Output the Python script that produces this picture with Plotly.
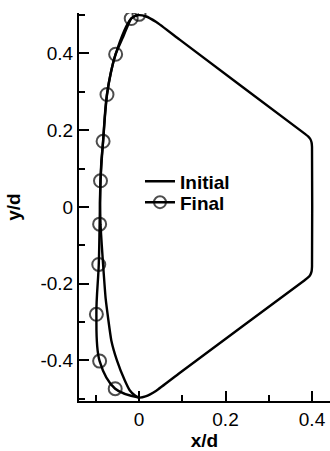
import plotly.graph_objects as go

# Initial profile: closed outline, traced from the top apex down the
# rounded leading edge, then back up along the flat-backed right side.
init_x = [0.000, -0.010, -0.018, -0.038, -0.054, -0.066, -0.074, -0.079,
          -0.083, -0.087, -0.089, -0.090, -0.089, -0.086, -0.083, -0.077,
          -0.064, -0.051, -0.033, -0.0215, -0.010, 0.000, 0.015, 0.040,
          0.094, 0.383, 0.391, 0.396, 0.399, 0.400,
          0.400, 0.399, 0.396, 0.391, 0.383, 0.094, 0.040, 0.015, 0.000]
init_y = [0.500, 0.497, 0.491, 0.440, 0.398, 0.345, 0.293, 0.232,
          0.171, 0.120, 0.068, 0.010, -0.045, -0.100, -0.150, -0.240,
          -0.348, -0.400, -0.452, -0.478, -0.491, -0.497, -0.494, -0.479,
          -0.433, -0.191, -0.184, -0.177, -0.168, -0.156,
          0.156, 0.168, 0.177, 0.184, 0.191, 0.436, 0.482, 0.497, 0.500]

# Final leading-edge profile (circles mark the sampled points)
final_x = [0.000, -0.018, -0.054, -0.074, -0.083, -0.089, -0.091, -0.093,
           -0.0985, -0.091, -0.055, 0.000]
final_y = [0.502, 0.491, 0.398, 0.293, 0.171, 0.068, -0.045, -0.150,
           -0.280, -0.402, -0.474, -0.497]
final_marker_size = [13] * (len(final_x) - 1) + [0]

x_ticks = [0, 0.2, 0.4]
x_tick_text = ["0", "0.2", "0.4"]
y_ticks = [-0.4, -0.2, 0, 0.2, 0.4]
y_tick_text = ["-0.4", "-0.2", "0", "0.2", "0.4"]

FONT = "Liberation Sans, Arial, sans-serif"
legend_font = dict(family=FONT, size=19, color="black", weight="bold")

fig = go.Figure()
fig.add_trace(go.Scatter(
    x=init_x, y=init_y, mode="lines", name="Initial", legend="legend",
    line=dict(color="black", width=2.4, shape="spline", smoothing=0.4),
))
fig.add_trace(go.Scatter(
    x=final_x, y=final_y, mode="lines+markers", name="Final", legend="legend2",
    line=dict(color="black", width=2.4, shape="spline", smoothing=1),
    marker=dict(symbol="circle-open", size=final_marker_size, color="black",
                line=dict(color="black", width=2)),
))

axis_common = dict(
    showline=True, linecolor="black", linewidth=2, mirror=False,
    ticks="inside", ticklen=10, tickwidth=1.5, tickcolor="black",
    showgrid=False, zeroline=False,
    tickfont=dict(family=FONT, size=19, color="black"),
    minor=dict(ticks="inside", ticklen=6, tickwidth=1.5, tickcolor="black", dtick=0.1),
)

fig.update_layout(
    width=330, height=451,
    margin=dict(l=79, r=0, t=13, b=50),
    paper_bgcolor="white", plot_bgcolor="white",
    showlegend=True,
    legend=dict(x=0.243, y=0.615, xanchor="left", yanchor="top",
                bgcolor="rgba(0,0,0,0)", borderwidth=0, font=legend_font),
    legend2=dict(x=0.243, y=0.561, xanchor="left", yanchor="top",
                 bgcolor="rgba(0,0,0,0)", borderwidth=0, font=legend_font),
    xaxis=dict(axis_common, range=[-0.1387, 0.4416],
               tickvals=x_ticks, ticktext=x_tick_text,
               title=dict(text="<b>x/d</b>", standoff=9,
                          font=dict(family=FONT, size=19, color="black"))),
    yaxis=dict(axis_common, range=[-0.506, 0.5055],
               tickvals=y_ticks, ticktext=y_tick_text,
               title=dict(text="<b>y/d</b>", standoff=15,
                          font=dict(family=FONT, size=19, color="black"))),
)

fig.write_html("out.html")
